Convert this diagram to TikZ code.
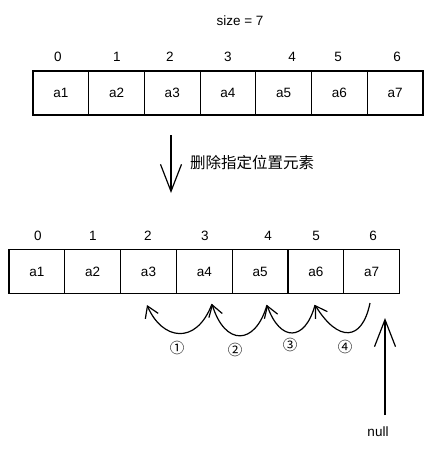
\documentclass[tikz,border=0pt]{standalone}
\usepackage{fontspec}
\setmainfont{Liberation Sans}
\newfontfamily\cjk{Noto Sans CJK SC}
\usetikzlibrary{arrows.meta}
\begin{document}
\begin{tikzpicture}[x=1pt,y=-1pt,
  cell/.style={draw, line width=1.2pt, minimum width=55.7pt, minimum height=44pt, inner sep=0pt, font=\fontsize{13.5}{16}\selectfont},
  idx/.style={font=\fontsize{13.5}{16}\selectfont, inner sep=0pt},
  bigarrow/.style={line width=1.2pt, -{Straight Barb[length=27pt,width=21pt,line width=1.2pt]}},
  hop/.style={line width=1.2pt, -{Straight Barb[length=11pt,width=14pt,line width=1.2pt]}},
  circ/.style={font=\cjk\fontsize{14.5}{17}\selectfont, inner sep=0pt}]
\useasboundingbox (0,0) rectangle (432,452);
% title
\node[idx] (size) at (240,21) {size = 7};
% top array
\foreach \i in {1,...,7}
  \node[cell] (t\i) at ({33+55.7*(\i-0.5)},93) {a\i};
\foreach \x [count=\k from 0] in {58,117,170,228,292,338,397}
  \node[idx] (ti\k) at (\x,57) {\k};
% middle arrow
\coordinate (ms) at (171,135);
\coordinate (me) at (171,193);
\draw[bigarrow] (ms) -- (me);
\node[anchor=west, inner sep=0pt, font=\cjk\fontsize{15.5}{18}\selectfont] (op) at (190,163) {删除指定位置元素};
% bottom array
\foreach \i in {1,...,7}
  \node[cell] (b\i) at ({9+55.8*(\i-0.5)},271.5) {a\i};
\foreach \x [count=\k from 0] in {38,93,148,205,268,316,373}
  \node[idx] (bi\k) at (\x,236) {\k};
% shift arcs
\coordinate (c7) at (370,303);
\coordinate (c6) at (315,305);
\coordinate (c5) at (267,305);
\coordinate (c4) at (212,304);
\coordinate (c3) at (147,305);
\draw[hop] (c7) .. controls (362,342) and (338,342) .. (c6);
\draw[hop] (c6) .. controls (305,342) and (280,342) .. (c5);
\draw[hop] (c5) .. controls (255,346) and (225,346) .. (c4);
\draw[hop] (c4) .. controls (196,346) and (162,340) .. (c3);
\node[circ] (n1) at (177,348) {①};
\node[circ] (n2) at (235,350) {②};
\node[circ] (n3) at (290,345) {③};
\node[circ] (n4) at (345,347) {④};
% null arrow
\node[idx] (null) at (378,432) {null};
\coordinate (ns) at (385,415);
\coordinate (nt) at (385,318);
\draw[bigarrow] (ns) -- (nt);
\end{tikzpicture}
\end{document}
